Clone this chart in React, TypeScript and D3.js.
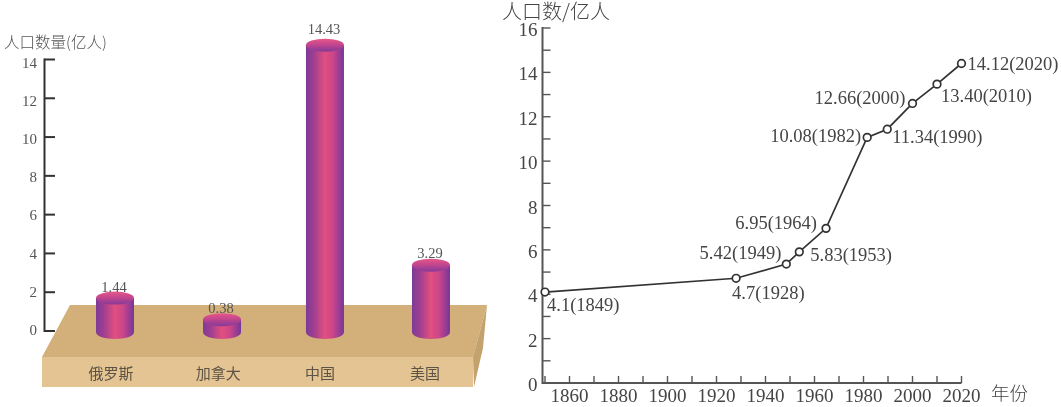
import { line, path as d3path, scaleLinear, scalePoint } from "d3";

// left chart
const countries = ["俄罗斯", "加拿大", "中国", "美国"];
const populations = [1.44, 0.38, 14.43, 3.29];
const leftTicks = [0, 2, 4, 6, 8, 10, 12, 14];

// right chart: where each point sits on the grid, which is not always what its label says
const plottedYears = [1850, 1928, 1948.5, 1953.8, 1964.7, 1981.5, 1989.7, 2000, 2010, 2020];
const plottedValues = [4.1, 4.72, 5.36, 5.91, 6.97, 11.07, 11.44, 12.6, 13.47, 14.4];
const pointLabels = [
  "4.1(1849)",
  "4.7(1928)",
  "5.42(1949)",
  "5.83(1953)",
  "6.95(1964)",
  "10.08(1982)",
  "11.34(1990)",
  "12.66(2000)",
  "13.40(2010)",
  "14.12(2020)"
];
const rightYTicks = [0, 2, 4, 6, 8, 10, 12, 14, 16];
const rightYMinor = [1, 3, 5, 7, 9, 11, 13, 15];
const rightXTicks = [1860, 1880, 1900, 1920, 1940, 1960, 1980, 2000, 2020];
const rightXMinor = [1850, 1870, 1890, 1910, 1930, 1950, 1970, 1990, 2010];

const WIDTH = 1061;
const HEIGHT = 407;
const SERIF = '"Liberation Serif", serif';
const CJK = '"Noto Sans CJK SC", sans-serif';
const TEXT_GREY = "#555";
const TEXT_DARK = "#444";

// label placement relative to its point: dx, dy, anchor
const labelPlacement: [number, number, "start" | "end"][] = [
  [2, 19, "start"],
  [-4, 21, "start"],
  [-5, -5, "end"],
  [11, 9, "start"],
  [-9, 1, "end"],
  [-6, 5, "end"],
  [5, 14, "start"],
  [-7, 1, "end"],
  [4, 18, "start"],
  [6, 6, "start"]
];

// the cylinders in the picture are hand placed, so small per-bar corrections: x, top y, gap to label, category label x
const barShiftX = [0, 1.7, -0.7, 0];
const barShiftTop = [0, 1, -1, 3];
const barLabelGap = [6.5, 7, 11, 7];
const categoryShiftX = [-4, -3.7, -5, -6];

const leftY = scaleLinear().domain([0, 14]).range([331, 59.5]);
// tick numbers drift against the ticks in the picture, so they get their own baseline scale
const leftLabelY = scaleLinear().domain([0, 14]).range([335, 67.5]);
const leftX = scalePoint<string>().domain(countries).range([115, 431]);
const rightY = scaleLinear().domain([0, 16]).range([383, 28]);
const rightX = scaleLinear().domain([1850, 2020]).range([545, 961.5]);

const CYL_RX = 19;
const CYL_TOP_RY = 6.5;
const CYL_BOTTOM_RY = 7;
const CYL_LIFT = 5; // top face sits a little above the axis value because of the perspective

function cylinderBody(cx: number, top: number, bottom: number) {
  const p = d3path();
  p.moveTo(cx - CYL_RX, top);
  p.lineTo(cx - CYL_RX, bottom);
  p.bezierCurveTo(cx - CYL_RX, bottom + CYL_BOTTOM_RY * 1.33, cx + CYL_RX, bottom + CYL_BOTTOM_RY * 1.33, cx + CYL_RX, bottom);
  p.lineTo(cx + CYL_RX, top);
  p.closePath();
  return p.toString();
}

const pointsLine = line<number>()
  .x((year) => rightX(year))
  .y((_year, i) => rightY(plottedValues[i]));

function LeftChart() {
  const baseY = leftY(0) + 1;
  return (
    <g>
      <polygon points="70,305 487,305 473,357 42,357" fill="#d3af79" />
      <polygon points="42,357 473,357 473,387 42,387" fill="#e3c492" />
      <polygon points="487,305 473,357 474,387 483,348" fill="#c4a26e" />

      <line x1={44.5} x2={44.5} y1={leftY(14) - 1} y2={leftY(0) + 1} stroke="#333" strokeWidth={2} />
      {leftTicks.map((tick) => (
        <g key={tick}>
          <line x1={44.5} x2={55} y1={leftY(tick)} y2={leftY(tick)} stroke="#333" strokeWidth={2} />
          <text x={37} y={leftLabelY(tick)} textAnchor="end" fontFamily={SERIF} fontSize={15} fill={TEXT_GREY}>
            {tick}
          </text>
        </g>
      ))}
      <text x={4} y={48} fontFamily={CJK} fontSize={15.5} fontWeight={300} fill={TEXT_GREY}>
        人口数量(亿人)
      </text>

      {countries.map((country, i) => {
        const cx = (leftX(country) as number) + barShiftX[i];
        const top = leftY(populations[i]) - CYL_LIFT + barShiftTop[i];
        return (
          <g key={country}>
            <path d={cylinderBody(cx, top, baseY)} fill="url(#cylSide)" />
            <ellipse cx={cx} cy={top} rx={CYL_RX} ry={CYL_TOP_RY} fill="url(#cylTop)" />
            <text x={cx - 1} y={top - barLabelGap[i]} textAnchor="middle" fontFamily={SERIF} fontSize={14.5} fill={TEXT_GREY}>
              {populations[i].toFixed(2)}
            </text>
            <text x={cx + categoryShiftX[i]} y={379} textAnchor="middle" fontFamily={CJK} fontSize={15} fill="#5c5245">
              {country}
            </text>
          </g>
        );
      })}
    </g>
  );
}

function RightChart() {
  const axisX = 542.5;
  const axisY = rightY(0);
  return (
    <g>
      <line x1={axisX} x2={axisX} y1={rightY(16) - 1} y2={axisY + 1} stroke="#555" strokeWidth={2} />
      <line x1={axisX} x2={rightX(2020)} y1={axisY} y2={axisY} stroke="#555" strokeWidth={2} />

      {[...rightYTicks, ...rightYMinor].map((tick) => (
        <line key={tick} x1={axisX} x2={axisX + 8} y1={rightY(tick)} y2={rightY(tick)} stroke="#555" strokeWidth={1.4} />
      ))}
      {rightYTicks.map((tick) => (
        <text key={tick} x={537.5} y={rightY(tick) + 8} textAnchor="end" fontFamily={SERIF} fontSize={19} fill={TEXT_DARK}>
          {tick}
        </text>
      ))}

      {[...rightXTicks, ...rightXMinor].map((tick) => (
        <line key={tick} x1={rightX(tick)} x2={rightX(tick)} y1={axisY} y2={axisY - 7} stroke="#555" strokeWidth={1.4} />
      ))}
      {rightXTicks.map((tick) => (
        <text key={tick} x={rightX(tick)} y={402} textAnchor="middle" fontFamily={SERIF} fontSize={19} fill={TEXT_DARK}>
          {tick}
        </text>
      ))}

      <text x={502} y={19} fontFamily={CJK} fontSize={20} fontWeight={300} fill={TEXT_DARK}>
        人口数/亿人
      </text>
      <text x={991} y={400} fontFamily={CJK} fontSize={18.5} fontWeight={300} fill={TEXT_DARK}>
        年份
      </text>

      <path d={pointsLine(plottedYears) ?? ""} fill="none" stroke="#333" strokeWidth={1.7} />
      {plottedYears.map((year, i) => (
        <circle key={year} cx={rightX(year)} cy={rightY(plottedValues[i])} r={3.8} fill="#fff" stroke="#333" strokeWidth={1.7} />
      ))}
      {pointLabels.map((label, i) => {
        const [dx, dy, anchor] = labelPlacement[i];
        return (
          <text
            key={label}
            x={rightX(plottedYears[i]) + dx}
            y={rightY(plottedValues[i]) + dy}
            textAnchor={anchor}
            fontFamily={SERIF}
            fontSize={18.5}
            fill={TEXT_DARK}
          >
            {label}
          </text>
        );
      })}
    </g>
  );
}

export default function App() {
  return (
    <svg
      width={WIDTH}
      height={HEIGHT}
      viewBox={`0 0 ${WIDTH} ${HEIGHT}`}
      style={{ position: "absolute", left: 0, top: 0, background: "#fff" }}
    >
      <defs>
        <linearGradient id="cylSide" x1="0" x2="1" y1="0" y2="0">
          <stop offset="0" stopColor="#7d3a97" />
          <stop offset="0.22" stopColor="#a23f90" />
          <stop offset="0.5" stopColor="#e2507f" />
          <stop offset="0.72" stopColor="#c9458a" />
          <stop offset="1" stopColor="#73379a" />
        </linearGradient>
        <linearGradient id="cylTop" x1="0" x2="0" y1="0" y2="1">
          <stop offset="0" stopColor="#e8578a" />
          <stop offset="0.45" stopColor="#c4468d" />
          <stop offset="1" stopColor="#84399a" />
        </linearGradient>
        <filter id="soft" x="0" y="0" width="100%" height="100%">
          <feGaussianBlur stdDeviation="0.4" />
        </filter>
      </defs>
      <g filter="url(#soft)">
        <rect width={WIDTH} height={HEIGHT} fill="#fff" />
        <LeftChart />
        <RightChart />
      </g>
    </svg>
  );
}
